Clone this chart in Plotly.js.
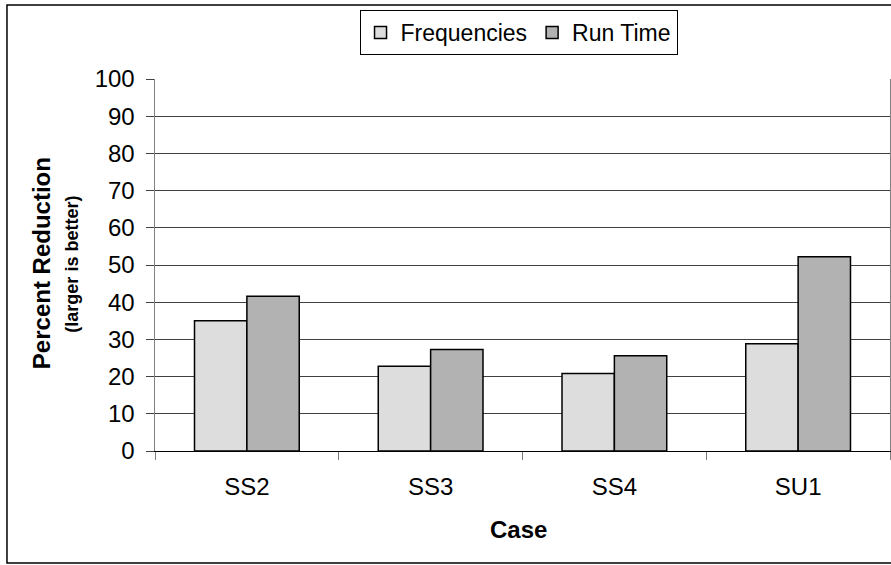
<!DOCTYPE html>
<html>
<head>
<meta charset="utf-8">
<script src="https://cdn.plot.ly/plotly-3.0.1.min.js"></script>
<style>
  html, body { margin: 0; padding: 0; background: #ffffff; overflow: hidden; }
  #chart { width: 891px; height: 565px; }
</style>
</head>
<body>
<div id="chart"></div>
<script>
// ---- data ----
const categories = ["SS2", "SS3", "SS4", "SU1"];
const frequencies = [35.0, 22.8, 20.8, 28.8];
const runTime = [41.6, 27.3, 25.6, 52.2];
const seriesNames = ["Frequencies", "Run Time"];
const yTicks = [0, 10, 20, 30, 40, 50, 60, 70, 80, 90, 100];

const FONT = "Arial, 'Liberation Sans', sans-serif";

const traces = [
  {
    type: "bar",
    name: seriesNames[0],
    x: categories,
    y: frequencies,
    marker: { color: "#dddddd", line: { color: "#000000", width: 1.5 } },
    hoverinfo: "skip"
  },
  {
    type: "bar",
    name: seriesNames[1],
    x: categories,
    y: runTime,
    marker: { color: "#b2b2b2", line: { color: "#000000", width: 1.5 } },
    hoverinfo: "skip"
  }
];

const layout = {
  width: 891,
  height: 565,
  margin: { l: 155, r: 1, t: 79, b: 114, pad: 0 },
  paper_bgcolor: "#ffffff",
  plot_bgcolor: "#ffffff",
  font: { family: FONT, size: 24, color: "#000000" },
  barmode: "group",
  bargap: 0.43,
  bargroupgap: 0,
  showlegend: true,
  legend: {
    orientation: "h",
    x: 0.4946,
    xanchor: "center",
    y: 1.1855,
    yanchor: "top",
    bgcolor: "#ffffff",
    bordercolor: "#000000",
    borderwidth: 1,
    font: { family: FONT, size: 23, color: "#000000" },
    itemclick: false,
    itemdoubleclick: false
  },
  xaxis: {
    type: "category",
    categoryorder: "array",
    categoryarray: categories,
    showline: true,
    linecolor: "#000000",
    linewidth: 1,
    ticks: "outside",
    tickson: "boundaries",
    ticklen: 8,
    tickcolor: "#808080",
    tickwidth: 1,
    ticklabelstandoff: 14,
    tickfont: { family: FONT, size: 24, color: "#000000" },
    showgrid: false,
    zeroline: false,
    fixedrange: true
  },
  yaxis: {
    range: [0, 100],
    tickvals: yTicks,
    ticktext: yTicks.map(String),
    showline: true,
    mirror: true,
    linecolor: "#808080",
    linewidth: 1.5,
    ticks: "outside",
    ticklen: 8,
    tickcolor: "#404040",
    tickwidth: 1,
    ticklabelstandoff: 6,
    tickfont: { family: FONT, size: 24, color: "#000000" },
    showgrid: true,
    gridcolor: "#404040",
    gridwidth: 1,
    zeroline: false,
    fixedrange: true
  },
  annotations: [
    {
      text: "<b>Percent Reduction</b>",
      xref: "paper", yref: "paper",
      x: -0.1551, y: 0.505,
      xanchor: "center", yanchor: "middle",
      textangle: -90,
      showarrow: false,
      font: { family: FONT, size: 24, color: "#000000" }
    },
    {
      text: "<b>(larger is better)</b>",
      xref: "paper", yref: "paper",
      x: -0.1129, y: 0.501,
      xanchor: "center", yanchor: "middle",
      textangle: -90,
      showarrow: false,
      font: { family: FONT, size: 18, color: "#000000" }
    },
    {
      text: "<b>Case</b>",
      xref: "paper", yref: "paper",
      x: 0.495, y: -0.212,
      xanchor: "center", yanchor: "middle",
      showarrow: false,
      font: { family: FONT, size: 24, color: "#000000" }
    }
  ],
  shapes: [
    {
      type: "rect",
      xref: "paper", yref: "paper",
      x0: -0.2014, x1: 1.004,
      y0: -0.3011, y1: 1.199,
      line: { color: "#000000", width: 1.5 },
      fillcolor: "rgba(0,0,0,0)",
      layer: "below"
    }
  ]
};

Plotly.newPlot("chart", traces, layout, { displayModeBar: false, staticPlot: true });
</script>
</body>
</html>
